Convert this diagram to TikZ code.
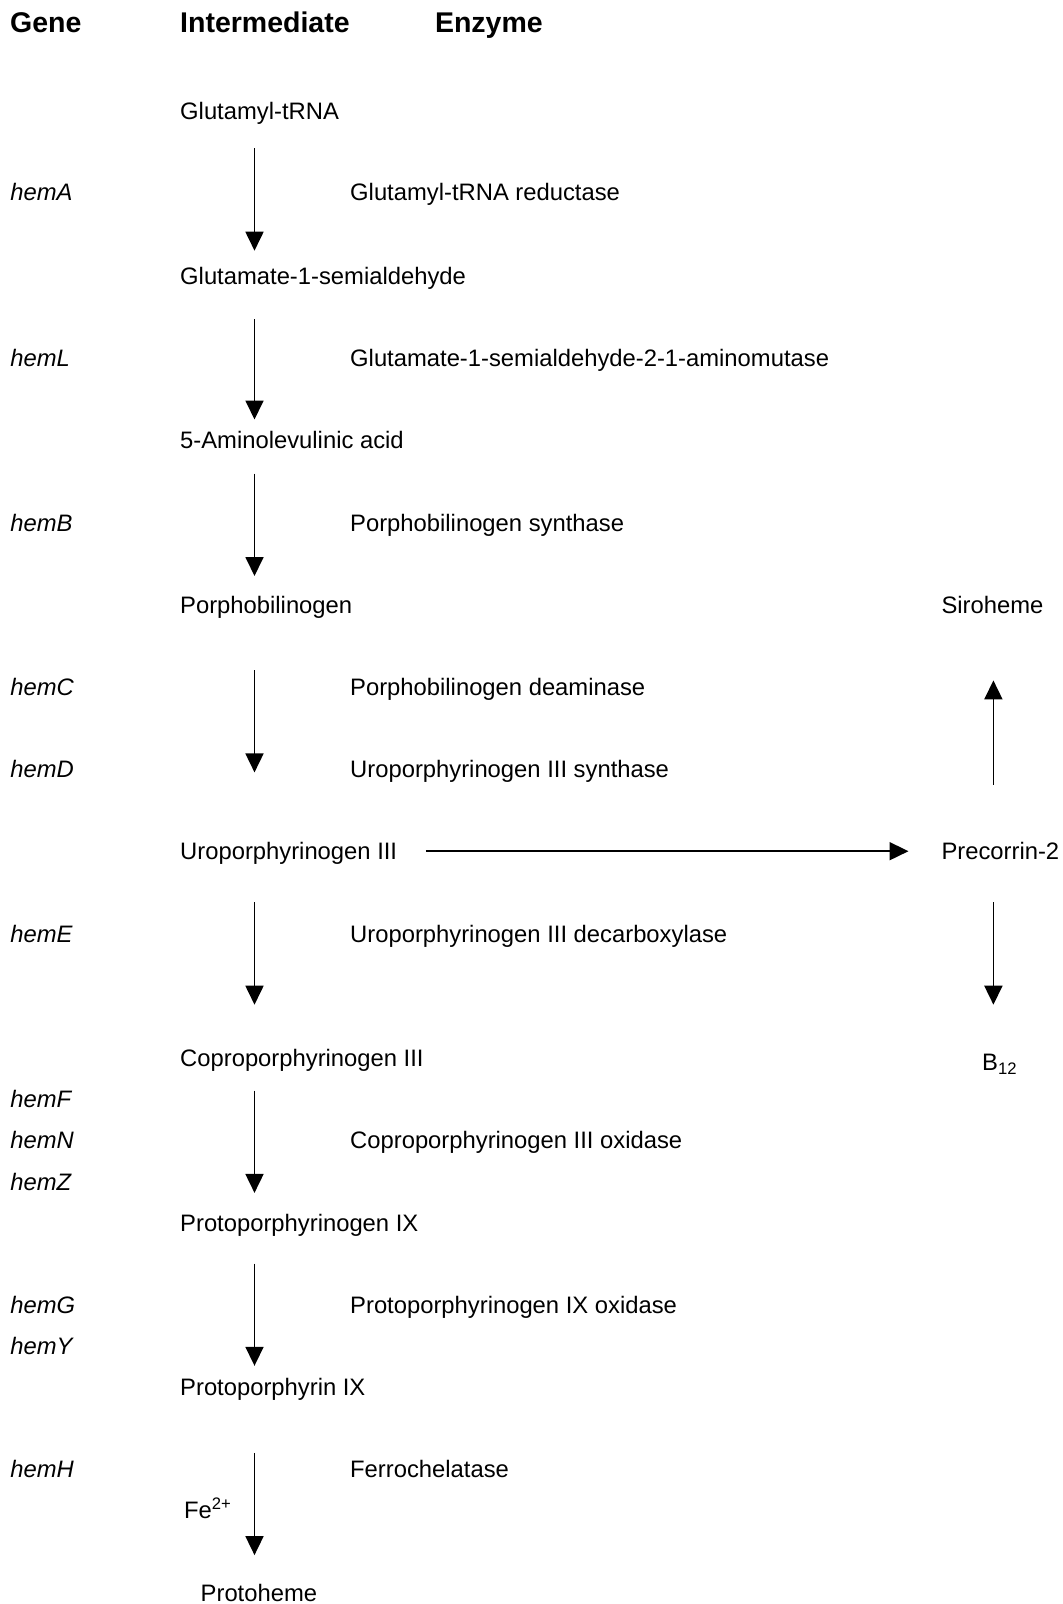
\documentclass[tikz,border=0pt]{standalone}
\usepackage{fontspec}
\setmainfont{Liberation Sans}
\usetikzlibrary{arrows.meta}

\begin{document}
\begin{tikzpicture}[x=1pt,y=-1pt]
	\tikzset{item/.style={anchor=west,inner sep=0pt,text height=17pt,text depth=0pt,
			font=\fontsize{23.8}{28}\selectfont},
		heading/.style={item,text height=20.4pt,font=\fontsize{28.5}{34}\selectfont\bfseries},
		gene/.style={item,font=\fontsize{23.8}{28}\selectfont\itshape},
		pathway/.style={-{Triangle[length=19pt,width=18pt]},line width=1.8pt}}

\useasboundingbox (0,0) rectangle (1063,1604);

% column heads
\node[heading] (genehd) at (10,22.5) {Gene};
\node[heading] (interhd) at (180,22.5) {Intermediate};
\node[heading] (enzhd) at (434.8,22.5) {Enzyme};

% intermediates
\node[item] (glu) at (180,110.5) {Glutamyl-tRNA};
\node[item] (gsa) at (180,276.2) {Glutamate-1-semialdehyde};
\node[item] (ala) at (180,439.9) {5-Aminolevulinic acid};
\node[item] (pbg) at (180,604.7) {Porphobilinogen};
\node[item] (uro) at (180,851.2) {Uroporphyrinogen III};
\node[item] (copro) at (180,1057.9) {Coproporphyrinogen III};
\node[item] (protogen) at (180,1222.6) {Protoporphyrinogen IX};
\node[item] (proto) at (180,1387.3) {Protoporphyrin IX};
\node[item] (heme) at (200.5,1593) {Protoheme};
\node[item] (fe) at (184,1510) {Fe\textsuperscript{2+}};

% side branch
\node[item] (siro) at (941.3,604.7) {Siroheme};
\node[item] (pre) at (941.3,851.2) {Precorrin-2};
\node[item] (btw) at (982,1062) {B\textsubscript{12}};

% genes
\node[gene] (hemA) at (10.2,192.3) {hemA};
\node[gene] (hemL) at (10.2,358.1) {hemL};
\node[gene] (hemB) at (10.2,522.8) {hemB};
\node[gene] (hemC) at (10.2,686.5) {hemC};
\node[gene] (hemD) at (10.2,769.4) {hemD};
\node[gene] (hemE) at (10.2,934.1) {hemE};
\node[gene] (hemF) at (10.2,1098.8) {hemF};
\node[gene] (hemN) at (10.2,1139.7) {hemN};
\node[gene] (hemZ) at (10.2,1181.7) {hemZ};
\node[gene] (hemG) at (10.2,1304.5) {hemG};
\node[gene] (hemY) at (10.2,1346.4) {hemY};
\node[gene] (hemH) at (10.2,1469.2) {hemH};

% enzymes
\node[item] (gtr) at (350,192.3) {Glutamyl-tRNA reductase};
\node[item] (gsam) at (350,358.1) {Glutamate-1-semialdehyde-2-1-aminomutase};
\node[item] (pbgs) at (350,522.8) {Porphobilinogen synthase};
\node[item] (pbgd) at (350,686.5) {Porphobilinogen deaminase};
\node[item] (uros) at (350,769.4) {Uroporphyrinogen III synthase};
\node[item] (urod) at (350,934.1) {Uroporphyrinogen III decarboxylase};
\node[item] (cpo) at (350,1139.7) {Coproporphyrinogen III oxidase};
\node[item] (ppo) at (350,1304.5) {Protoporphyrinogen IX oxidase};
\node[item] (fch) at (350,1469.2) {Ferrochelatase};

\coordinate (axis) at (254.5,0);
\coordinate (side) at (993.4,0);

% main pathway
\draw[pathway,shorten <=37.9pt,shorten >=25.5pt] (glu.west -| axis) -- (gsa.west -| axis);
\draw[pathway,shorten <=43pt,shorten >=20.4pt] (gsa.west -| axis) -- (ala.west -| axis);
\draw[pathway,shorten <=33.8pt,shorten >=28.7pt] (ala.west -| axis) -- (pbg.west -| axis);
\draw[pathway,shorten <=65.4pt,shorten >=78.8pt] (pbg.west -| axis) -- (uro.west -| axis);
\draw[pathway,shorten <=51.2pt,shorten >=53.2pt] (uro.west -| axis) -- (copro.west -| axis);
\draw[pathway,shorten <=32.7pt,shorten >=29.7pt] (copro.west -| axis) -- (protogen.west -| axis);
\draw[pathway,shorten <=40.9pt,shorten >=21.5pt] (protogen.west -| axis) -- (proto.west -| axis);
\draw[pathway,shorten <=65.5pt,shorten >=37.9pt] (proto.west -| axis) -- (heme.west -| axis);

% branch to siroheme and B12
\draw[pathway,shorten <=28.6pt,shorten >=32.8pt] (uro.east) -- (pre.west);
\draw[pathway,shorten <=66.5pt,shorten >=75.7pt] (pre.west -| side) -- (siro.west -| side);
\draw[pathway,shorten <=51.2pt,shorten >=57.3pt] (pre.west -| side) -- (btw.west -| side);
\end{tikzpicture}
\end{document}
